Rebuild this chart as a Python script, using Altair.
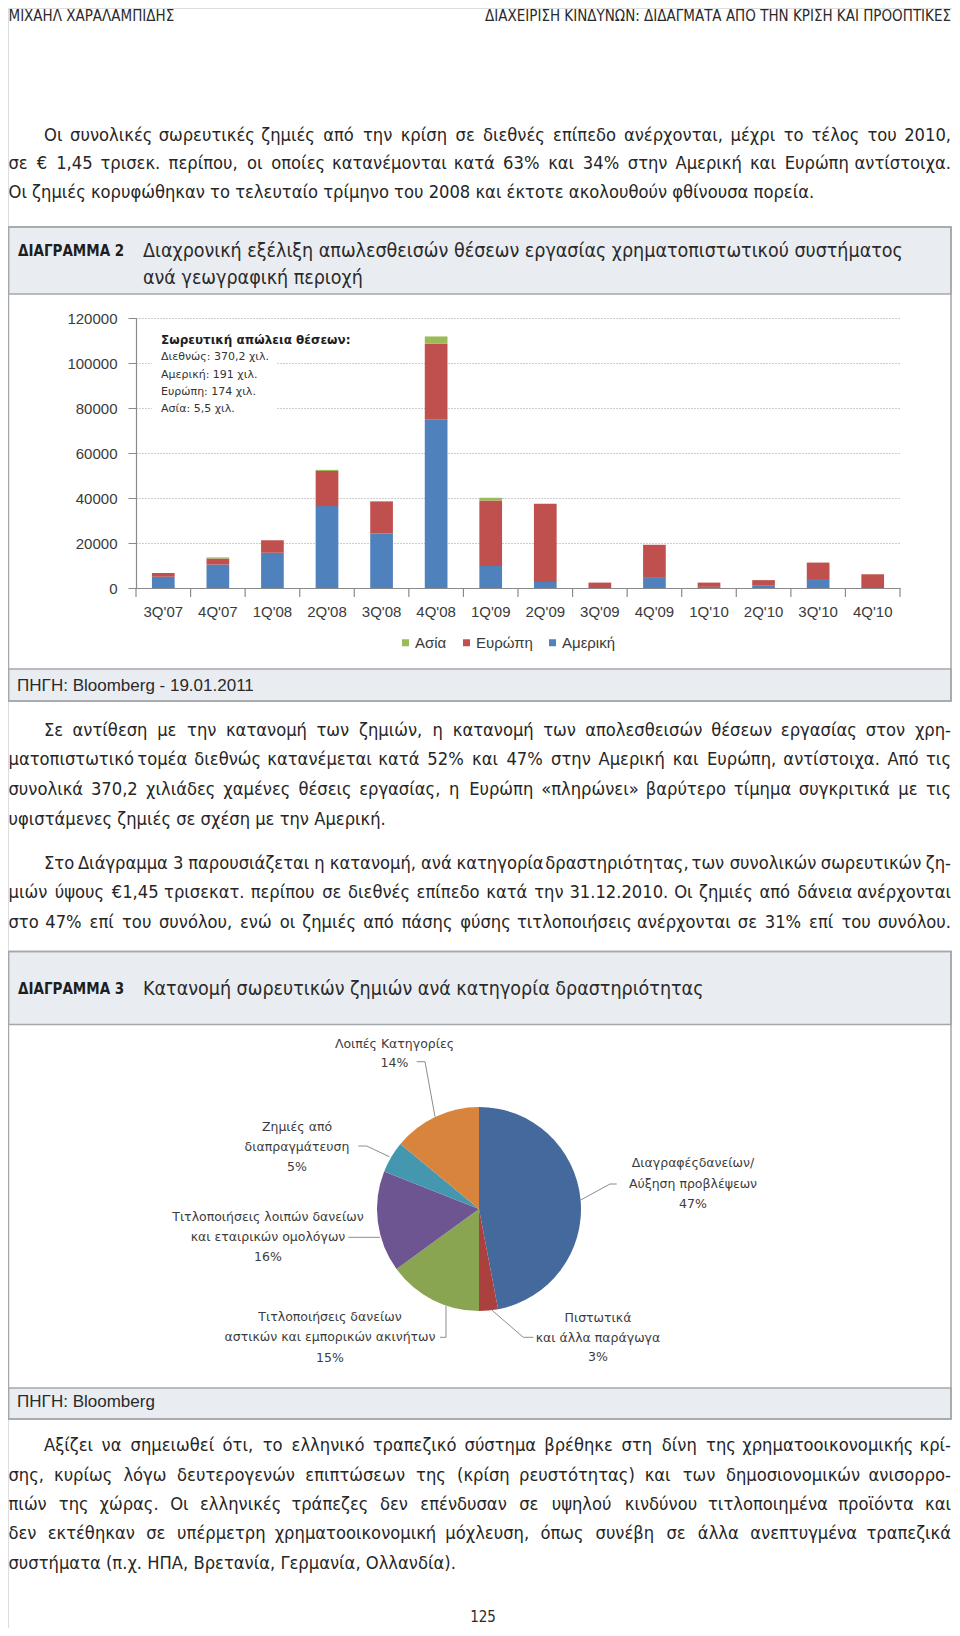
import altair as alt
import pandas as pd

OX, OY = 8, 8          # page margin: chart origin on the page
W, H = 944, 1620

# ---------------- data ----------------
quarters = ["3Q'07", "4Q'07", "1Q'08", "2Q'08", "3Q'08", "4Q'08", "1Q'09",
            "2Q'09", "3Q'09", "4Q'09", "1Q'10", "2Q'10", "3Q'10", "4Q'10"]
america = [5000, 10400, 15700, 36400, 24200, 75000, 9800, 2700, 0, 4500, 500, 1000, 4000, 0]
europe = [1700, 2700, 5500, 15600, 14300, 33500, 29100, 34700, 2400, 14700, 1900, 2500, 7300, 6100]
asia = [0, 500, 0, 500, 0, 3300, 1200, 0, 0, 0, 0, 0, 0, 0]
regions = ["Ασία", "Ευρώπη", "Αμερική"]
region_colors = ["#9bbb59", "#c0504d", "#4f81bd"]
y_ticks = [0, 20000, 40000, 60000, 80000, 100000, 120000]

pie_names = [["Διαγραφέςδανείων/", "Αύξηση προβλέψεων"],
             ["Πιστωτικά", "και άλλα παράγωγα"],
             ["Τιτλοποιήσεις δανείων", "αστικών και εμπορικών ακινήτων"],
             ["Τιτλοποιήσεις λοιπών δανείων", "και εταιρικών ομολόγων"],
             ["Ζημιές από", "διαπραγμάτευση"],
             ["Λοιπές Κατηγορίες"]]
pie_values = [47, 3, 15, 16, 5, 14]
pie_colors = ["#44699c", "#ab413e", "#8aa552", "#6d5591", "#4497ae", "#d9843c"]

notes = ["Διεθνώς: 370,2 χιλ.", "Αμερική: 191 χιλ.", "Ευρώπη: 174 χιλ.", "Ασία: 5,5 χιλ."]

para1 = ["Οι συνολικές σωρευτικές ζημιές από την κρίση σε διεθνές επίπεδο ανέρχονται, μέχρι το τέλος του 2010,",
         "σε € 1,45 τρισεκ. περίπου, οι οποίες κατανέμονται κατά 63% και 34% στην Αμερική και Ευρώπη αντίστοιχα.",
         "Οι ζημιές κορυφώθηκαν το τελευταίο τρίμηνο του 2008 και έκτοτε ακολουθούν φθίνουσα πορεία."]
para2 = ["Σε αντίθεση με την κατανομή των ζημιών, η κατανομή των απολεσθεισών θέσεων εργασίας στον χρη-",
         "ματοπιστωτικό τομέα διεθνώς κατανέμεται κατά 52% και 47% στην Αμερική και Ευρώπη, αντίστοιχα. Από τις",
         "συνολικά 370,2 χιλιάδες χαμένες θέσεις εργασίας, η Ευρώπη «πληρώνει» βαρύτερο τίμημα συγκριτικά με τις",
         "υφιστάμενες ζημιές σε σχέση με την Αμερική."]
para3 = ["Στο Διάγραμμα 3 παρουσιάζεται η κατανομή, ανά κατηγορία δραστηριότητας, των συνολικών σωρευτικών ζη-",
         "μιών ύψους €1,45 τρισεκατ. περίπου σε διεθνές επίπεδο κατά την 31.12.2010. Οι ζημιές από δάνεια ανέρχονται",
         "στο 47% επί του συνόλου, ενώ οι ζημιές από πάσης φύσης τιτλοποιήσεις ανέρχονται σε 31% επί του συνόλου."]
para4 = ["Αξίζει να σημειωθεί ότι, το ελληνικό τραπεζικό σύστημα βρέθηκε στη δίνη της χρηματοοικονομικής κρί-",
         "σης, κυρίως λόγω δευτερογενών επιπτώσεων της (κρίση ρευστότητας) και των δημοσιονομικών ανισορρο-",
         "πιών της χώρας. Οι ελληνικές τράπεζες δεν επένδυσαν σε υψηλού κινδύνου τιτλοποιημένα προϊόντα και",
         "δεν εκτέθηκαν σε υπέρμετρη χρηματοοικονομική μόχλευση, όπως συνέβη σε άλλα ανεπτυγμένα τραπεζικά",
         "συστήματα (π.χ. ΗΠΑ, Βρετανία, Γερμανία, Ολλανδία)."]

# ---------------- styles / layout ----------------
NARROW = "Liberation Sans Narrow, DejaVu Sans Condensed, sans-serif"
SANS = "Liberation Sans, Arial, sans-serif"
ROUND = "DejaVu Sans, sans-serif"
BODY_SIZE = 18.2
BODY_COLOR = "#262626"
BORDER = "#a4a7ab"
BAND = "#e9edf2"
GRAY = "#8a8a8a"
LEFT, RIGHT, INDENT = 8.5, 951, 44

# bar chart geometry (page px)
X0, X1 = 136, 900
Y0, Y120 = 588, 318

# approximate glyph advance widths (em) used only to space justified words
CW = {}
for chars, w in [("αά", .659), ("β", .638), ("γνλχ", .592), ("δθοό", .612), ("εέ", .541),
                 ("ζξ", .544), ("ηήμ", .635), ("ιίϊΐ", .338), ("κ", .589), ("π", .652),
                 ("ρ", .635), ("σ", .634), ("ς", .55), ("τ", .583), ("υύϋΰ", .608), ("φ", .77),
                 ("ψ", .804), ("ωώ", .836), ("ΑΔΛΖΧ", .684), ("Β", .686), ("Γ", .557),
                 ("ΕΞΣ", .632), ("ΗΠΝ", .75), ("ΘΟΦΨ", .787), ("Ι", .295), ("Κ", .656),
                 ("Μ", .863), ("Ρ", .603), ("ΤΥ", .611), ("Ω", .764), ("0123456789€", .636),
                 (",.", .318), (":", .337), ("%", .95), ("-", .361), ("()", .39), ("«»", .557)]:
    for c in chars:
        CW[c] = w


def est(s):
    return sum(CW.get(c, 0.6) for c in s)


# calibrated on the rendered width of an unjustified line (≈847.5 px at 18.5 px)
CAL = 847.5 / (est(para1[2]) * 18.5)


def P(x, y):
    return x - OX, y - OY


def text_layer(rows, align="left", font=NARROW, size=BODY_SIZE, weight="normal",
               color=BODY_COLOR, baseline="middle"):
    df = pd.DataFrame([(r[0] - OX, r[1] - OY, r[2]) for r in rows], columns=["x", "y", "t"])
    return alt.Chart(df).mark_text(align=align, baseline=baseline, font=font, fontSize=size,
                                   fontWeight=weight, color=color).encode(
        x=alt.X("x:Q", scale=None), y=alt.Y("y:Q", scale=None), text="t:N")


def justify(line, x0, x1, y, just=True):
    if not just:
        return {"left": [(x0, y, line)], "center": [], "right": []}
    words = line.split(" ")
    ws = [est(w) * BODY_SIZE * CAL for w in words]
    gap = (x1 - x0 - sum(ws)) / (len(words) - 1)
    out = {"left": [], "center": [], "right": []}
    x = x0
    for i, (w, wd) in enumerate(zip(words, ws)):
        if i == 0:
            out["left"].append((x0, y, w))
        elif i == len(words) - 1:
            out["right"].append((x1, y, w))
        else:
            out["center"].append((x + wd / 2, y, w))
        x += wd + gap
    return out


def paragraph(lines, ys, last_just=False):
    acc = {"left": [], "center": [], "right": []}
    for i, (ln, y) in enumerate(zip(lines, ys)):
        x0 = INDENT if i == 0 else LEFT
        just = (i < len(lines) - 1) or last_just
        r = justify(ln, x0, RIGHT, y, just)
        for key in acc:
            acc[key] += r[key]
    return acc


layers = []


# ---------------- boxes ----------------
def rect_layer(rects, fill=None, stroke=None, sw=1.5):
    df = pd.DataFrame([(a - OX, b - OY, c - OX, d - OY) for a, b, c, d in rects],
                      columns=["x", "y", "x2", "y2"])
    kw = {}
    if fill:
        kw["fill"] = fill
    else:
        kw["fillOpacity"] = 0
        kw["fill"] = "white"
    if stroke:
        kw["stroke"] = stroke
        kw["strokeWidth"] = sw
    return alt.Chart(df).mark_rect(**kw).encode(
        x=alt.X("x:Q", scale=None), x2="x2:Q", y=alt.Y("y:Q", scale=None), y2="y2:Q")


bands = [(LEFT, 227, RIGHT, 294), (LEFT, 669, RIGHT, 701),
         (LEFT, 951.5, RIGHT, 1024.5), (LEFT, 1388, RIGHT, 1419)]
layers.append(rect_layer(bands, fill=BAND, stroke=BORDER))
layers.append(rect_layer([(LEFT, 227, RIGHT, 701), (LEFT, 951.5, RIGHT, 1419)], stroke=BORDER))

# ---------------- bar chart ----------------
rows = []
for q, a, e, s in zip(quarters, america, europe, asia):
    rows.append({"quarter": q, "region": "Αμερική", "value": a, "ord": 0})
    rows.append({"quarter": q, "region": "Ευρώπη", "value": e, "ord": 1})
    rows.append({"quarter": q, "region": "Ασία", "value": s, "ord": 2})
bars_df = pd.DataFrame(rows)

xscale = alt.Scale(domain=quarters, range=[X0 - OX, X1 - OX], paddingInner=0, paddingOuter=0)
xaxis = alt.Axis(orient="bottom", offset=(Y0 - OY) - H, ticks=False, tickSize=0, labelAngle=0,
                 labelFont=SANS, labelFontSize=15, labelColor="#3a3a3a", labelPadding=16,
                 domainColor=GRAY, domainWidth=1.2, grid=False, title=None)
yscale = alt.Scale(domain=[0, 120000], range=[Y0 - OY, Y120 - OY], nice=False, zero=True)
yaxis = alt.Axis(orient="left", offset=-(X0 - OX), values=y_ticks, format="d",
                 labelFont=SANS, labelFontSize=15, labelColor="#3a3a3a", labelPadding=11,
                 tickSize=8, tickColor=GRAY, domainColor=GRAY, domainWidth=1.2,
                 grid=True, gridColor="#9a9a9a", gridDash=[1, 2], gridWidth=1, title=None)

bars = alt.Chart(bars_df).mark_bar(width=alt.RelativeBandSize(0.416)).encode(
    x=alt.X("quarter:N", sort=quarters, scale=xscale, axis=xaxis),
    y=alt.Y("value:Q", stack="zero", scale=yscale, axis=yaxis),
    color=alt.Color("region:N", scale=alt.Scale(domain=regions, range=region_colors),
                    legend=alt.Legend(orient="none", legendX=390, legendY=627, direction="horizontal",
                                      title=None, symbolType="square", symbolSize=49,
                                      symbolStrokeWidth=0, labelFont=SANS, labelFontSize=15,
                                      labelColor="#3a3a3a", columnPadding=12, labelOffset=2,
                                      padding=0)),
    order=alt.Order("ord:Q"))
layers.append(bars)

ticks = alt.Chart(pd.DataFrame({"quarter": quarters})).mark_rule(color=GRAY, strokeWidth=1.2).encode(
    x=alt.X("quarter:N", sort=quarters, scale=xscale, axis=xaxis, bandPosition=0),
    y=alt.value(Y0 - OY), y2=alt.value(Y0 - OY + 9))
layers.append(ticks)
layers.append(alt.Chart(pd.DataFrame({"a": [0]})).mark_rule(color=GRAY, strokeWidth=1.2).encode(
    x=alt.value(X1 - OX), y=alt.value(Y0 - OY), y2=alt.value(Y0 - OY + 9)))

# white box behind the annotation
layers.append(rect_layer([(152, 329, 276, 419)], fill="white"))
layers.append(text_layer([(161, 339.7, "Σωρευτική απώλεια θέσεων:")], font=ROUND, size=12,
                         weight="bold", color="#1e1e1e"))
layers.append(text_layer([(161, 357.3 + 17.3 * i, t) for i, t in enumerate(notes)],
                         font=ROUND, size=11, color="#333333"))

# ---------------- pie ----------------
pie_df = pd.DataFrame({"value": pie_values, "color": pie_colors, "ord": list(range(len(pie_values)))})
cx, cy = P(479, 1209)
pie = alt.Chart(pie_df).mark_arc(radius=102).encode(
    theta=alt.Theta("value:Q", stack=True),
    color=alt.Color("color:N", scale=None),
    order=alt.Order("ord:Q"),
    x=alt.value(cx), y=alt.value(cy))
layers.append(pie)

# leader lines (annotation layout, page px)
leaders = [[(616.7, 1184), (610, 1184), (580.7, 1200)],
           [(533.3, 1337.3), (523.3, 1337.3), (491.7, 1310)],
           [(440, 1337.3), (446, 1337.3), (446, 1306)],
           [(348.3, 1237.3), (380, 1237.3)],
           [(358.3, 1146), (366.7, 1146), (389.3, 1156.7)],
           [(416.7, 1061.7), (425, 1061.7), (435, 1116.7)]]
segs = []
for pl in leaders:
    for (a, b), (c, d) in zip(pl[:-1], pl[1:]):
        segs.append((a - OX, b - OY, c - OX, d - OY))
seg_df = pd.DataFrame(segs, columns=["x", "y", "x2", "y2"])
layers.append(alt.Chart(seg_df).mark_rule(color="#8c8c8c", strokeWidth=1).encode(
    x=alt.X("x:Q", scale=None), x2="x2:Q", y=alt.Y("y:Q", scale=None), y2="y2:Q"))

# pie labels (centre of each label block, page px)
label_pos = [(693, 1163.3, 20.4), (598, 1318.3, 19.2), (330, 1316.7, 20.5),
             (268, 1217.3, 20), (297, 1126.7, 20), (394.5, 1044, 19.3)]
pl_rows = []
for names, v, (lx, ly, dy) in zip(pie_names, pie_values, label_pos):
    for j, nm in enumerate(names + [f"{v}%"]):
        pl_rows.append((lx, ly + j * dy, nm))
layers.append(text_layer(pl_rows, align="center", font=ROUND, size=12.5, color="#3c3c3c"))

# ---------------- page text ----------------
layers.append(text_layer([(LEFT, 9, "ΜΙΧΑΗΛ ΧΑΡΑΛΑΜΠΙΔΗΣ")], size=15, baseline="top", color="#2a2a2a"))
layers.append(text_layer([(RIGHT, 9, "ΔΙΑΧΕΙΡΙΣΗ ΚΙΝΔΥΝΩΝ: ΔΙΔΑΓΜΑΤΑ ΑΠΟ ΤΗΝ ΚΡΙΣΗ ΚΑΙ ΠΡΟΟΠΤΙΚΕΣ")],
                         align="right", size=15, baseline="top", color="#2a2a2a"))

for lines, ys, lj in [(para1, [136, 164, 193], False),
                      (para2, [731, 760, 790, 820], False),
                      (para3, [864, 893, 922.5], True),
                      (para4, [1446, 1475.5, 1505, 1534, 1564], False)]:
    acc = paragraph(lines, ys, lj)
    for al in ["left", "center", "right"]:
        if acc[al]:
            layers.append(text_layer(acc[al], align=al))

layers.append(text_layer([(18, 251, "ΔΙΑΓΡΑΜΜΑ 2"), (18, 989, "ΔΙΑΓΡΑΜΜΑ 3")], size=15,
                         weight="bold", color="#1e1e1e"))
layers.append(text_layer([(143, 251, "Διαχρονική εξέλιξη απωλεσθεισών θέσεων εργασίας χρηματοπιστωτικού συστήματος"),
                          (143, 278, "ανά γεωγραφική περιοχή"),
                          (143, 989, "Κατανομή σωρευτικών ζημιών ανά κατηγορία δραστηριότητας")],
                         size=19.5, color="#2a2a2a"))
layers.append(text_layer([(17, 686, "ΠΗΓΗ: Bloomberg - 19.01.2011"), (17, 1402, "ΠΗΓΗ: Bloomberg")],
                         font=SANS, size=17, color="#2a2a2a"))
layers.append(text_layer([(483, 1617, "125")], align="center", size=15, color="#2a2a2a"))

chart = alt.layer(*layers).properties(
    width=W, height=H, autosize=alt.AutoSizeParams(type="none"), padding=0
).configure_view(stroke=None).configure(background="white")

chart.save("out.html", embed_options={"renderer": "svg", "actions": False})
